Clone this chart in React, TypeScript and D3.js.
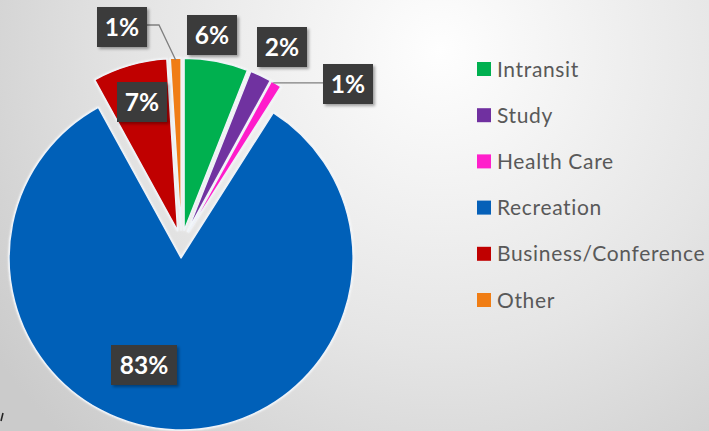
import React from "react";
import * as d3 from "d3";

// ---- data ----
const categories = ["Intransit", "Study", "Health Care", "Recreation", "Business/Conference", "Other"];
const shares = [6, 2, 1, 83, 7, 1];
const labels = ["6%", "2%", "1%", "83%", "7%", "1%"];
const colors = ["#00b050", "#7030a0", "#ff1fcb", "#0560b8", "#c00000", "#f07d14"];

// ---- layout ----
const W = 709;
const H = 431;
const CX = 181.5;
const CY = 244;
const R = 172;
const EXPLODE = 14;
// label box centres relative to the pie centre, plus box widths
const labelDX = [30.5, 100.5, 166.5, -37.5, -39.5, -59.5];
const labelDY = [-209, -197, -160, 121, -142, -217];
const labelW = [50, 50, 50, 66, 50, 50];
const BOX_H = 40;
const LEG_X = 477;
const LEG_Y0 = 69;
const LEG_STEP = 46.2;

export default function App() {
  const pie = d3.pie<number>().sort(null).startAngle(0).endAngle(2 * Math.PI);
  const arcs = pie(shares);
  const arcGen = d3.arc<d3.PieArcDatum<number>>().innerRadius(0).outerRadius(R);

  const polar = (a: number, r: number) => [Math.sin(a) * r, -Math.cos(a) * r];

  return (
    <div>
      <style>{`body{margin:0;}`}</style>
      <svg width={W} height={H} style={{ display: "block" }}>
        <defs>
          <radialGradient id="bg" gradientUnits="userSpaceOnUse" cx={440} cy={50} r={540}>
            <stop offset="0" stopColor="#fefefe" />
            <stop offset="0.55" stopColor="#e5e5e5" />
            <stop offset="1" stopColor="#cbcbcb" />
          </radialGradient>
          <filter id="sh" x="-20%" y="-20%" width="150%" height="150%">
            <feDropShadow dx="2" dy="2" stdDeviation="1.5" floodColor="#000" floodOpacity="0.35" />
          </filter>
          <filter id="glow" x="-10%" y="-10%" width="120%" height="120%">
            <feDropShadow dx="0" dy="0" stdDeviation="1.2" floodColor="#ffffff" floodOpacity="0.9" />
          </filter>
        </defs>
        <rect x={0} y={0} width={W} height={H} fill="url(#bg)" />
        <path d="M3,413 L1,421" stroke="#222" strokeWidth={1.6} />

        {/* slices */}
        <g transform={`translate(${CX},${CY})`}>
          {arcs.map((a, i) => {
            const mid = (a.startAngle + a.endAngle) / 2;
            const [ox, oy] = polar(mid, EXPLODE);
            return (
              <path
                key={categories[i]}
                d={arcGen(a) || ""}
                transform={`translate(${ox},${oy})`}
                fill={colors[i]}
                stroke="#eef3f8"
                strokeWidth={1.4}
                strokeLinejoin="round"
                filter="url(#glow)"
              />
            );
          })}
        </g>

        {/* leader lines */}
        <g transform={`translate(${CX},${CY})`} stroke="#7f7f7f" strokeWidth={1.3} fill="none">
          {arcs.map((a, i) => {
            const mid = (a.startAngle + a.endAngle) / 2;
            const [px, py] = polar(mid, R + EXPLODE);
            const bx = labelDX[i];
            const by = labelDY[i];
            const hw = labelW[i] / 2;
            if (categories[i] === "Other") {
              const x0 = bx + hw;
              return <path key={i} d={`M${x0},${by - 2} L${x0 + 12},${by - 2} L${px},${py + 2}`} />;
            }
            if (categories[i] === "Health Care") {
              return <path key={i} d={`M${px - 3},${py - 1} L${bx - hw},${py - 1}`} />;
            }
            return null;
          })}
        </g>

        {/* labels */}
        <g transform={`translate(${CX},${CY})`}>
          {arcs.map((a, i) => (
            <g key={i} transform={`translate(${labelDX[i]},${labelDY[i]})`}>
              <rect
                x={-labelW[i] / 2}
                y={-BOX_H / 2}
                width={labelW[i]}
                height={BOX_H}
                fill="#3b3b3b"
                filter="url(#sh)"
              />
              <text
                x={0}
                y={0}
                dy="0.36em"
                textAnchor="middle"
                fill="#ffffff"
                fontFamily="Lato, 'Open Sans', sans-serif"
                fontWeight={700}
                fontSize={24.5}
              >
                {labels[i]}
              </text>
            </g>
          ))}
        </g>

        {/* legend */}
        <g>
          {categories.map((c, i) => {
            const y = LEG_Y0 + i * LEG_STEP;
            return (
              <g key={c} transform={`translate(${LEG_X},${y})`}>
                <rect x={0} y={-7} width={14} height={14} fill={colors[i]} />
                <text
                  x={20}
                  y={0}
                  dy="0.36em"
                  fill="#595959"
                  fontFamily="Lato, 'Open Sans', sans-serif"
                  fontSize={21}
                  letterSpacing={0.65}
                >
                  {c}
                </text>
              </g>
            );
          })}
        </g>
      </svg>
    </div>
  );
}
